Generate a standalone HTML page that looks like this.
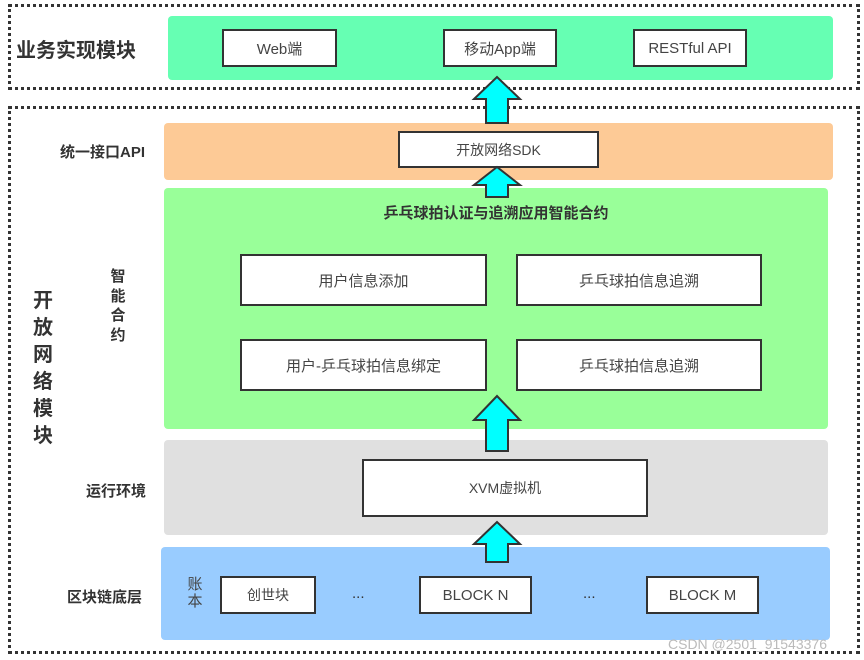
<!DOCTYPE html>
<html><head><meta charset="utf-8"><style>
body{margin:0;width:864px;height:660px;background:#fff;position:relative;overflow:hidden;font-family:"Liberation Sans","Noto Sans CJK SC",sans-serif;}
div{position:absolute;box-sizing:border-box;}
.dot{border:3px dotted #333;}
.bg{border-radius:4px;}
.b{background:#fff;border:2px solid #333;color:#444;font-size:15px;display:flex;align-items:center;justify-content:center;}
.lab{font-weight:bold;color:#333;font-size:14px;}
.v{width:20px;text-align:center;line-height:1.15;}
</style></head><body>
<div class="dot" style="left:8px;top:4px;width:852px;height:86px"></div>
<div class="dot" style="left:8px;top:106px;width:852px;height:548px"></div>
<div class="bg" style="left:168px;top:16px;width:665px;height:64px;background:#66ffb3"></div>
<div class="b" style="left:222px;top:29px;width:115px;height:38px">Web端</div>
<div class="b" style="left:443px;top:29px;width:114px;height:38px">移动App端</div>
<div class="b" style="left:633px;top:29px;width:114px;height:38px">RESTful API</div>
<div class="lab" style="left:16px;top:34px;font-size:20px">业务实现模块</div>

<div class="bg" style="left:164px;top:123px;width:669px;height:57px;background:#fdca96"></div>
<div class="b" style="left:398px;top:131px;width:201px;height:37px;font-size:14px">开放网络SDK</div>
<div class="lab" style="left:60px;top:141px;font-size:15px">统一接口API</div>

<div class="bg" style="left:164px;top:188px;width:664px;height:241px;background:#99ff99"></div>
<div class="lab" style="left:164px;top:202px;width:664px;text-align:center;font-size:15px">乒乓球拍认证与追溯应用智能合约</div>
<div class="b" style="left:240px;top:254px;width:247px;height:52px">用户信息添加</div>
<div class="b" style="left:516px;top:254px;width:246px;height:52px">乒乓球拍信息追溯</div>
<div class="b" style="left:240px;top:339px;width:247px;height:52px">用户-乒乓球拍信息绑定</div>
<div class="b" style="left:516px;top:339px;width:246px;height:52px">乒乓球拍信息追溯</div>
<div class="lab v" style="left:108px;top:267px;font-size:15px;line-height:1.3">智<br>能<br>合<br>约</div>
<div class="lab v" style="left:30px;top:288px;font-size:20px;width:26px;line-height:1.35">开<br>放<br>网<br>络<br>模<br>块</div>

<div class="bg" style="left:164px;top:440px;width:664px;height:95px;background:#e0e0e0"></div>
<div class="b" style="left:362px;top:459px;width:286px;height:58px;font-size:14px">XVM虚拟机</div>
<div class="lab" style="left:86px;top:480px;font-size:15px">运行环境</div>

<div class="bg" style="left:161px;top:547px;width:669px;height:93px;background:#99ccff"></div>
<div class="lab" style="left:67px;top:586px;font-size:15px">区块链底层</div>
<div class="v" style="left:185px;top:576px;color:#444;font-size:15px">账<br>本</div>
<div class="b" style="left:220px;top:576px;width:96px;height:38px;font-size:14px">创世块</div>
<div class="b" style="left:419px;top:576px;width:113px;height:38px">BLOCK N</div>
<div class="b" style="left:646px;top:576px;width:113px;height:38px">BLOCK M</div>
<div style="left:352px;top:585px;color:#333;font-size:15px">...</div>
<div style="left:583px;top:585px;color:#333;font-size:15px">...</div>
<div style="left:668px;top:636px;color:#bbb;font-size:14px">CSDN @2501_91543376</div>

<svg width="864" height="660" style="position:absolute;left:0;top:0">
<g fill="#00ffff" stroke="#333" stroke-width="2">
<polygon points="486,123 508,123 508,99 520,99 497,77 474,99 486,99"/>
<polygon points="486,197 508,197 508,185 520,185 497,167 474,185 486,185"/>
<polygon points="486,451 508,451 508,420 520,420 497,396 474,420 486,420"/>
<polygon points="486,562 508,562 508,544 520,544 497,522 474,544 486,544"/>
</g></svg>
</body></html>
